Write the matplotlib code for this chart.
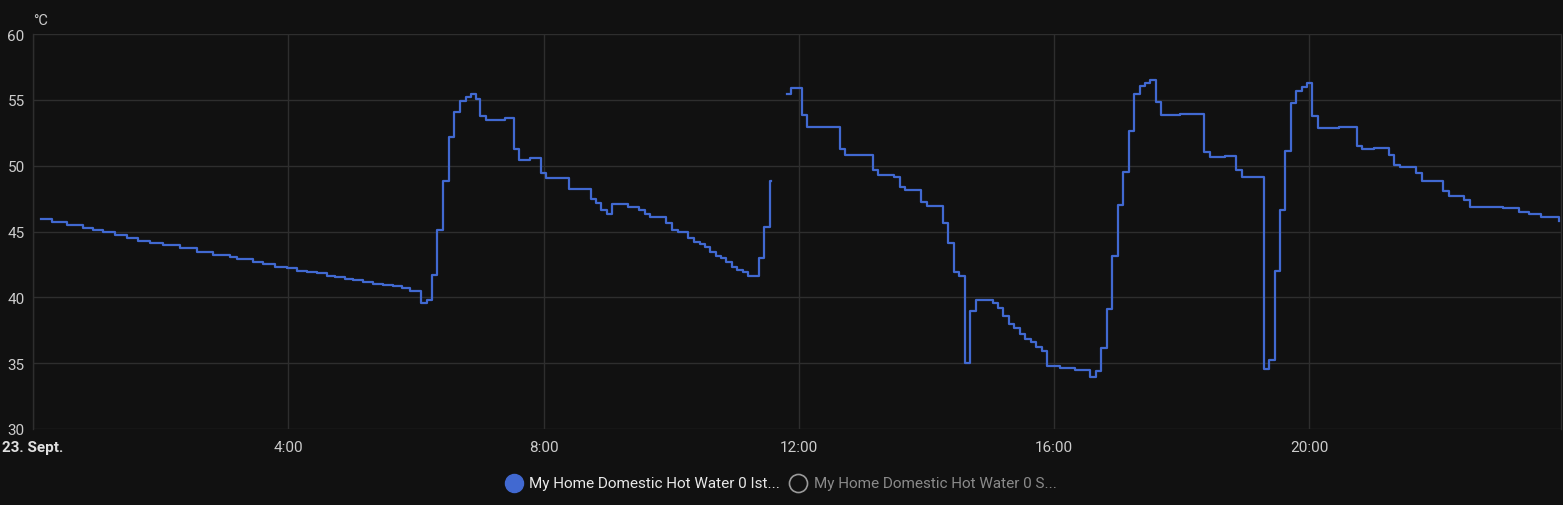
import numpy as np
import matplotlib.pyplot as plt
from matplotlib.lines import Line2D

# hours since 23. Sept. 0:00 -> temperature (°C), step data, NaN = gap
hours = [0.125, 0.293, 0.537, 0.788, 0.945, 1.096, 1.284, 1.468, 1.649, 1.832,
         2.036, 2.302, 2.564, 2.824, 3.085, 3.190, 3.450, 3.607, 3.790, 3.973,
         4.130, 4.287, 4.443, 4.600, 4.730, 4.886, 5.016, 5.173, 5.330, 5.486,
         5.643, 5.774, 5.904, 6.072,
         6.166, 6.244, 6.323, 6.417, 6.515, 6.598, 6.688, 6.777, 6.855, 6.938,
         7.006, 7.095, 7.392, 7.538, 7.616, 7.784, 7.967, 8.045, 8.395, 8.739,
         8.828, 8.907, 8.995, 9.079, 9.330, 9.491, 9.585, 9.674, 9.925, 10.019,
         10.107, 10.269, 10.357, 10.446, 10.529, 10.614, 10.697, 10.786, 10.865, 10.952,
         11.030, 11.124, 11.209, 11.375, 11.459, 11.554, 11.566,
         11.813, 11.882, 12.051, 12.130, 12.643, 12.728, 13.156, 13.239, 13.489, 13.579,
         13.668, 13.919, 14.002, 14.257, 14.341, 14.424, 14.507, 14.597, 14.686, 14.769,
         15.040, 15.118, 15.203, 15.291, 15.375, 15.458, 15.547, 15.630, 15.714, 15.803,
         15.886, 16.085, 16.320, 16.555, 16.566, 16.653, 16.738, 16.821, 16.910, 16.993,
         17.076, 17.165, 17.248, 17.338, 17.421, 17.505, 17.588, 17.674, 17.964, 18.345,
         18.434, 18.669, 18.852, 18.939, 19.284, 19.363, 19.452, 19.535, 19.624, 19.713,
         19.796, 19.880, 19.964, 20.047, 20.128, 20.470, 20.741, 20.826, 21.018, 21.242,
         21.331, 21.420, 21.671, 21.758, 22.099, 22.182, 22.428, 22.517, 23.028, 23.289,
         23.446, 23.629, 23.915]
temps = [45.95, 45.73, 45.52, 45.25, 45.09, 44.94, 44.74, 44.51, 44.26, 44.13,
         43.98, 43.73, 43.47, 43.24, 43.04, 42.92, 42.71, 42.54, 42.33, 42.21,
         42.03, 41.90, 41.83, 41.65, 41.53, 41.42, 41.32, 41.17, 41.02, 40.92,
         40.84, 40.71, 40.46, 39.55,
         39.80, 41.70, 45.10, 48.80, 52.20, 54.05, 54.90, 55.20, 55.45, 55.04,
         53.80, 53.45, 53.60, 51.30, 50.40, 50.60, 49.45, 49.04, 48.25, 47.50,
         47.20, 46.66, 46.30, 47.10, 46.86, 46.66, 46.30, 46.08, 45.65, 45.14,
         44.94, 44.49, 44.23, 44.05, 43.85, 43.47, 43.17, 42.97, 42.66, 42.28,
         42.08, 41.90, 41.65, 42.97, 45.32, 48.86, np.nan,
         55.45, 55.88, 53.85, 52.90, 51.25, 50.84, 49.67, 49.32, 49.14, 48.36,
         48.15, 47.27, 46.94, 45.65, 44.15, 41.95, 41.65, 35.04, 38.94, 39.77,
         39.57, 39.16, 38.55, 37.98, 37.65, 37.22, 36.84, 36.59, 36.26, 35.96,
         34.77, 34.65, 34.50, 34.18, 33.98, 34.43, 36.13, 39.12, 43.12, 47.02,
         49.50, 52.63, 55.45, 56.03, 56.26, 56.50, 54.86, 53.85, 53.95, 51.07,
         50.64, 50.70, 49.67, 49.11, 34.56, 35.25, 41.98, 46.64, 51.14, 54.76,
         55.65, 55.95, 56.26, 53.75, 52.84, 52.92, 51.52, 51.24, 51.34, 50.84,
         50.05, 49.88, 49.45, 48.82, 48.06, 47.73, 47.40, 46.89, 46.76, 46.46,
         46.30, 46.08, 45.83]

x_ticks = [0, 4, 8, 12, 16, 20]
x_labels = ['23. Sept.', '4:00', '8:00', '12:00', '16:00', '20:00']
y_ticks = [30, 35, 40, 45, 50, 55, 60]

legend_names = ['My Home Domestic Hot Water 0 Ist...', 'My Home Domestic Hot Water 0 S...']

bg = '#111111'
grid_c = '#2e2e2e'
text_c = '#cccccc'
blue = '#4169d1'

plt.rcParams['font.family'] = ['Roboto', 'DejaVu Sans']

fig = plt.figure(figsize=(15.63, 5.06), dpi=100, facecolor=bg)
ax = fig.add_axes([0.0211, 0.1502, 0.9776, 0.7806])
ax.set_facecolor(bg)

ax.plot(hours, temps, drawstyle='steps-post', color=blue, linewidth=1.6)

ax.set_xlim(0, 23.94)
ax.set_ylim(30, 60)
ax.set_xticks(x_ticks)
ax.set_xticklabels(x_labels)
ax.set_yticks(y_ticks)
ax.grid(True, color=grid_c, linewidth=1)
ax.set_axisbelow(True)
for s in ['top', 'bottom']:
    ax.spines[s].set_visible(False)
for s in ['left', 'right']:
    ax.spines[s].set_color(grid_c)
    ax.spines[s].set_linewidth(1)
ax.tick_params(length=0, colors=text_c, labelsize=11)
ax.tick_params(axis='x', pad=8)
ax.tick_params(axis='y', pad=6)
ax.get_xticklabels()[0].set_fontweight('bold')
ax.get_xticklabels()[0].set_color('#e0e0e0')

fig.text(0.0211, 0.958, '°C', color=text_c, fontsize=10.5, ha='left', va='center')

# legend row
y_leg = 1 - 484 / 506
fig.add_artist(Line2D([514 / 1563], [y_leg], marker='o', markersize=13, color=blue,
                      transform=fig.transFigure))
fig.text(529 / 1563, y_leg, legend_names[0], color='#e8e8e8', fontsize=11, va='center', ha='left')
fig.add_artist(Line2D([798 / 1563], [y_leg], marker='o', markersize=13, markerfacecolor='none',
                      markeredgecolor='#9a9a9a', markeredgewidth=1.2, transform=fig.transFigure))
fig.text(814 / 1563, y_leg, legend_names[1], color='#8a8a8a', fontsize=11, va='center', ha='left')

fig.savefig('out.png', dpi=100, facecolor=bg)
